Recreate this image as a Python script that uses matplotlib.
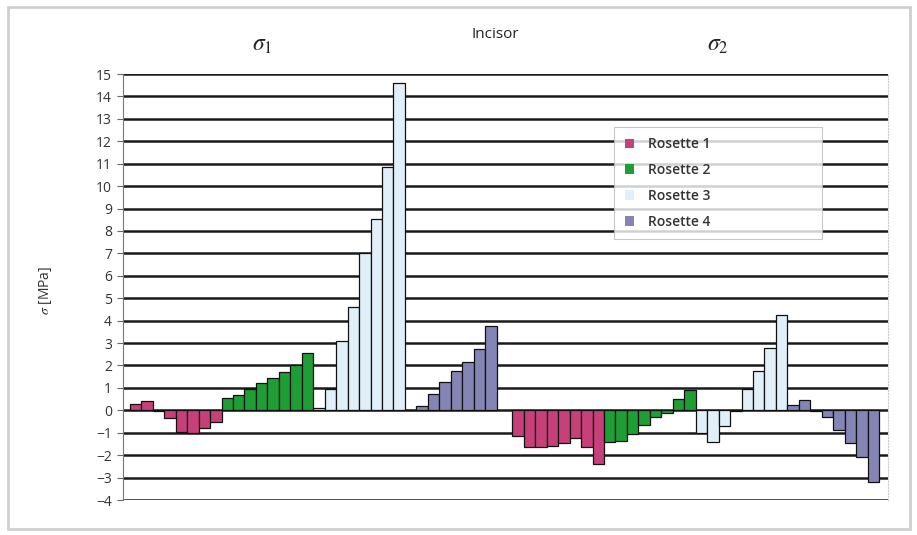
import numpy as np
import matplotlib
matplotlib.use("Agg")
import matplotlib.pyplot as plt
from matplotlib.patches import Rectangle

plt.rcParams["font.family"] = ["Open Sans", "DejaVu Sans"]
plt.rcParams["mathtext.fontset"] = "stix"

# stress values, 8 readings per rosette
stress_names = [r"$\sigma_1$", r"$\sigma_2$"]
rosettes = ["Rosette 1", "Rosette 2", "Rosette 3", "Rosette 4"]

r1_s1 = [0.3, 0.4, -0.05, -0.35, -0.95, -1.0, -0.8, -0.5]
r2_s1 = [0.55, 0.7, 0.95, 1.2, 1.45, 1.7, 2.0, 2.55]
r3_s1 = [0.1, 0.95, 3.1, 4.6, 7.0, 8.55, 10.85, 14.6]
r4_s1 = [0.02, 0.2, 0.75, 1.25, 1.75, 2.15, 2.75, 3.75]

r1_s2 = [-1.15, -1.65, -1.65, -1.6, -1.45, -1.25, -1.65, -2.4]
r2_s2 = [-1.4, -1.35, -1.05, -0.65, -0.3, -0.1, 0.5, 0.9]
r3_s2 = [-1.0, -1.4, -0.7, -0.05, 0.95, 1.75, 2.8, 4.25]
r4_s2 = [0.25, 0.45, -0.02, -0.3, -0.9, -1.45, -2.1, -3.2]

values = [[r1_s1, r2_s1, r3_s1, r4_s1], [r1_s2, r2_s2, r3_s2, r4_s2]]
colors = ["#c8407a", "#1f9e35", "#e1eff9", "#8585b5"]

y_ticks = list(range(-4, 16))

GAP = 1.37  # space between the two stress groups, in bar widths

fig = plt.figure(figsize=(9.17, 5.35), dpi=100)
ax = fig.add_axes([123 / 917, 35 / 535, 765 / 917, 426 / 535])

n_per = len(r1_s1)
group_len = n_per * len(rosettes)
for g, group in enumerate(values):
    for r, vals in enumerate(group):
        pos = g * (group_len + GAP) + r * n_per + np.arange(n_per)
        ax.bar(pos, vals, width=1.0, color=colors[r], edgecolor="#111111",
               linewidth=0.9, zorder=3, label=rosettes[r] if g == 0 else None)

ax.set_xlim(-0.5 - 0.6, 2 * group_len + GAP - 0.5 + 0.78)
ax.set_ylim(-4, 15)
ax.set_yticks(y_ticks)
ax.set_xticks([])
ax.yaxis.grid(True, color="#1a1a1a", linewidth=1.8)
ax.set_axisbelow(True)
ax.tick_params(axis="y", length=4, width=0.8, color="#666666",
               labelsize=10, labelcolor="#333333", pad=4)
for side in ["top", "bottom"]:
    ax.spines[side].set_visible(False)
ax.spines["left"].set_color("#777777")
ax.spines["right"].set_color("#cccccc")
ax.spines["right"].set_linestyle(":")

ax.set_ylabel(r"$\sigma$ [MPa]", fontsize=10, color="#333333")
ax.yaxis.set_label_coords(-0.09, 0.493)

fig.text(262 / 917, 1 - 45 / 535, stress_names[0], fontsize=17,
         ha="center", va="center", color="#222222")
fig.text(718 / 917, 1 - 45 / 535, stress_names[1], fontsize=17,
         ha="center", va="center", color="#222222")
fig.text(495 / 917, 1 - 35 / 535, "Incisor", fontsize=11,
         ha="center", va="center", color="#222222")

leg = ax.legend(loc="upper left", bbox_to_anchor=(0.642, 0.615, 0.272, 0.261),
                mode="expand", borderaxespad=0, fontsize=10, frameon=True,
                fancybox=False, handlelength=0.7, handleheight=0.7,
                handletextpad=1.0, labelspacing=0.85, borderpad=0.75,
                edgecolor="#bbbbbb", labelcolor="#333333")
leg.get_frame().set_linewidth(0.8)
for h in leg.legend_handles:
    h.set_linewidth(0)
leg.set_zorder(5)
for t in leg.get_texts():
    t.set_fontweight("semibold")

# outer frame around the whole chart
fig.patches.append(Rectangle((8 / 917, 6 / 535), 902 / 917, 522 / 535,
                             transform=fig.transFigure, fill=False,
                             edgecolor="#cfcfcf", linewidth=2))

fig.savefig("out.png", dpi=100)
